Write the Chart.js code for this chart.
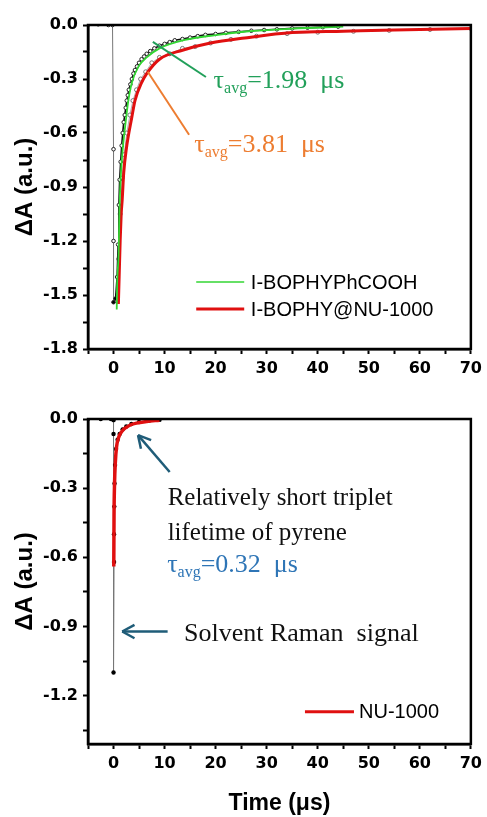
<!DOCTYPE html>
<html lang="en">
<head>
<meta charset="UTF-8">
<title>Transient absorption decays</title>
<script src="https://cdn.jsdelivr.net/npm/chart.js"></script>
<style>
  body { margin: 0; background: #fff; width: 487px; height: 817px; overflow: hidden; position: relative; }
  canvas { position: absolute; left: 0; }
  #top { top: 0; }
  #bottom { top: 392px; }
</style>
</head>
<body>
<canvas id="top" width="487" height="392"></canvas>
<canvas id="bottom" width="487" height="425"></canvas>
<script>
// tick positions (time in us, dA in a.u.)
const xTicks = [-5, 0, 5, 10, 15, 20, 25, 30, 35, 40, 45, 50, 55, 60, 65, 70];
const yTicksTop = [-1.8, -1.65, -1.5, -1.35, -1.2, -1.05, -0.9, -0.75, -0.6, -0.45, -0.3, -0.15, 0];
const yTicksBottom = [-1.35, -1.2, -1.05, -0.9, -0.75, -0.6, -0.45, -0.3, -0.15, 0];

// top panel: fit of I-BOPHYPhCOOH (green)
const phFitT = [0.63, 0.7, 1.0, 1.15, 1.25, 1.5, 1.8, 2.5, 2.9, 3.6, 4.9, 6.5, 9, 14, 20, 26, 35, 45];
const phFitA = [-1.58, -1.45, -1.27, -1.05, -0.95, -0.8, -0.69, -0.51, -0.42, -0.32, -0.23, -0.18, -0.13, -0.083, -0.056, -0.036, -0.02, -0.009];

// top panel: fit of I-BOPHY@NU-1000 (red)
const nuFitT = [0.95, 1.1, 1.3, 1.5, 1.7, 2.0, 2.5, 3.6, 4.2, 5.5, 6.5, 9, 13.5, 19, 25.7, 35, 45, 55, 70];
const nuFitA = [-1.55, -1.4, -1.2, -1.05, -0.97, -0.82, -0.69, -0.51, -0.42, -0.32, -0.27, -0.19, -0.14, -0.1, -0.072, -0.042, -0.035, -0.028, -0.02];

// top panel: raw traces
const phRawT = [-5, -3, -1, -0.2, 0, 0, 0, 0.4, 0.7, 0.9, 1.05, 1.2, 1.4, 1.6, 1.8, 2.0, 2.2, 2.4, 2.6, 2.8, 3.0, 3.3, 3.6, 3.9, 4.2, 4.6, 5.0, 5.5, 6.0, 6.5, 7.2, 8, 9, 10, 11, 12, 13.5, 15, 16.5, 18, 20, 22, 24.5, 27, 29.5, 32, 35, 38, 41, 44];
const phRawA = [0, 0.004, 0, 0, -0.69, -1.2, -1.54, -1.52, -1.4, -1.22, -1.0, -0.86, -0.76, -0.67, -0.6, -0.54, -0.5, -0.46, -0.42, -0.39, -0.36, -0.33, -0.3, -0.27, -0.25, -0.23, -0.21, -0.19, -0.175, -0.16, -0.145, -0.13, -0.115, -0.105, -0.095, -0.085, -0.078, -0.07, -0.062, -0.055, -0.05, -0.044, -0.038, -0.032, -0.028, -0.024, -0.019, -0.015, -0.012, -0.009];
const nuRawT = [0.8, 1.0, 1.3, 1.7, 2.1, 2.6, 3.2, 3.8, 4.5, 5.3, 6.3, 7.5, 9, 11, 13.5, 16, 19, 23, 28, 34, 40, 47, 54, 62, 70];
const nuRawA = [-1.5, -1.3, -1.05, -0.85, -0.72, -0.6, -0.5, -0.42, -0.36, -0.3, -0.26, -0.21, -0.18, -0.16, -0.13, -0.12, -0.1, -0.08, -0.062, -0.048, -0.04, -0.035, -0.03, -0.025, -0.02];

// bottom panel: NU-1000
const mofFitT = [0.05, 0.1, 0.2, 0.35, 0.6, 1.0, 1.7, 2.5, 3.3, 4.5, 6.5, 9];
const mofFitA = [-0.64, -0.42, -0.28, -0.19, -0.12, -0.08, -0.052, -0.036, -0.026, -0.018, -0.011, -0.005];
const mofRawT = [-5, -2.5, -0.5, 0, 0, 0, 0.1, 0.1, 0.15, 0.2, 0.3, 0.5, 0.8, 1.2, 1.8, 2.5, 3.5, 5, 7, 9];
const mofRawA = [0, 0, 0, -0.005, -0.065, -1.1, -0.62, -0.5, -0.38, -0.28, -0.2, -0.13, -0.09, -0.065, -0.045, -0.032, -0.022, -0.013, -0.007, -0.004];

const SANS = '"Liberation Sans", Arial, sans-serif';
const SERIF = '"Liberation Serif", "Times New Roman", serif';
const pts = (t, a) => t.map((x, i) => ({ x: x, y: a[i] }));

function xAxis(height, showTitle) {
  return {
    type: 'linear', min: -5, max: 70,
    afterBuildTicks: s => { s.ticks = xTicks.map(v => ({ value: v })); },
    afterFit: s => { s.height = height; },
    ticks: {
      autoSkip: false, maxRotation: 0, color: '#000', padding: 5,
      font: { family: '"DejaVu Sans"', size: 16, weight: 'bold' },
      callback: v => (v % 10 === 0 ? String(v) : '')
    },
    grid: { drawOnChartArea: false, tickLength: 5, tickWidth: 2, tickColor: '#000' },
    border: { color: '#000', width: 2.5 },
    title: {
      display: showTitle, text: 'Time (\u03bcs)', color: '#000',
      font: { family: SANS, size: 23, weight: 'bold' }, padding: { top: 0, bottom: 0 }
    }
  };
}

function yAxis(min, ticks) {
  return {
    type: 'linear', min: min, max: 0,
    afterBuildTicks: s => { s.ticks = ticks.map(v => ({ value: v })); },
    afterFit: s => { s.width = 88; },
    ticks: {
      color: '#000', padding: 5,
      font: { family: '"DejaVu Sans"', size: 16, weight: 'bold' },
      callback: v => (Math.abs(Math.round(v / 0.3) * 0.3 - v) < 1e-6 ? v.toFixed(1) : '')
    },
    grid: { drawOnChartArea: false, tickLength: 5, tickWidth: 2, tickColor: '#000' },
    border: { color: '#000', width: 2.5 },
    title: {
      display: true, text: '\u0394A (a.u.)', color: '#000',
      font: { family: SANS, size: 24, weight: 'bold' }, padding: { top: 11, bottom: 0 }
    }
  };
}

// box around the plot area
const frame = {
  id: 'frame',
  afterDatasetsDraw(chart) {
    const { ctx, chartArea: a } = chart;
    ctx.save();
    ctx.strokeStyle = '#000';
    ctx.lineWidth = 2.5;
    ctx.strokeRect(a.left, a.top, a.right - a.left, a.bottom - a.top);
    ctx.restore();
  }
};

function at(chart, x, y) {
  return [chart.scales.x.getPixelForValue(x), chart.scales.y.getPixelForValue(y)];
}

function segment(ctx, p, q, color, w) {
  ctx.strokeStyle = color;
  ctx.lineWidth = w;
  ctx.beginPath();
  ctx.moveTo(p[0], p[1]);
  ctx.lineTo(q[0], q[1]);
  ctx.stroke();
}

function arrow(ctx, tail, head, color) {
  segment(ctx, tail, head, color, 2.5);
  const ang = Math.atan2(tail[1] - head[1], tail[0] - head[0]);
  const len = 14;
  [-0.5, 0.5].forEach(d => {
    segment(ctx, head, [head[0] + len * Math.cos(ang + d), head[1] + len * Math.sin(ang + d)], color, 2.5);
  });
}

// "τavg=... μs" with the subscript
function tau(ctx, x, y, value, color) {
  ctx.fillStyle = color;
  ctx.textBaseline = 'alphabetic';
  ctx.textAlign = 'left';
  ctx.font = '26px ' + SERIF;
  ctx.fillText('\u03c4', x, y);
  x += ctx.measureText('\u03c4').width;
  ctx.font = '16px ' + SERIF;
  ctx.fillText('avg', x, y + 5);
  x += ctx.measureText('avg').width;
  ctx.font = '26px ' + SERIF;
  ctx.fillText('=' + value + '  \u03bcs', x, y);
}

function legendRow(ctx, chart, x1, x2, tx, y, color, w, label) {
  const a = at(chart, x1, y), b = at(chart, x2, y), t = at(chart, tx, y);
  segment(ctx, a, b, color, w);
  ctx.fillStyle = '#000';
  ctx.font = '20px ' + SANS;
  ctx.textBaseline = 'middle';
  ctx.textAlign = 'left';
  ctx.fillText(label, t[0], t[1] + 1);
}

const topNotes = {
  id: 'topNotes',
  afterDraw(chart) {
    const ctx = chart.ctx;
    ctx.save();
    segment(ctx, at(chart, 7.7, -0.094), at(chart, 18.1, -0.289), '#22a05a', 2);
    segment(ctx, at(chart, 6.7, -0.26), at(chart, 14.8, -0.61), '#ed7d31', 2);
    let p = at(chart, 19.6, -0.35);
    tau(ctx, p[0], p[1], '1.98', '#22a05a');
    p = at(chart, 15.8, -0.706);
    tau(ctx, p[0], p[1], '3.81', '#ed7d31');
    legendRow(ctx, chart, 16.2, 25.6, 26.9, -1.428, '#33d633', 1.5, 'I-BOPHYPhCOOH');
    legendRow(ctx, chart, 16.2, 25.6, 26.9, -1.578, '#e01010', 3, 'I-BOPHY@NU-1000');
    ctx.restore();
  }
};

const bottomNotes = {
  id: 'bottomNotes',
  afterDraw(chart) {
    const ctx = chart.ctx;
    ctx.save();
    arrow(ctx, at(chart, 11, -0.23), at(chart, 4.8, -0.07), '#1f5c78');
    arrow(ctx, at(chart, 10.6, -0.922), at(chart, 1.7, -0.922), '#1f5c78');
    ctx.fillStyle = '#111';
    ctx.font = '25px ' + SERIF;
    ctx.textAlign = 'left';
    ctx.textBaseline = 'alphabetic';
    let p = at(chart, 10.6, -0.374);
    ctx.fillText('Relatively short triplet', p[0], p[1]);
    p = at(chart, 10.6, -0.526);
    ctx.fillText('lifetime of pyrene', p[0], p[1]);
    ctx.font = '26px ' + SERIF;
    p = at(chart, 13.8, -0.961);
    ctx.fillText('Solvent Raman  signal', p[0], p[1]);
    p = at(chart, 10.5, -0.665);
    tau(ctx, p[0], p[1], '0.32', '#2e75b6');
    legendRow(ctx, chart, 37.5, 47.1, 48.1, -1.27, '#e01010', 3, 'NU-1000');
    ctx.restore();
  }
};

// the spike at t = 0 is drawn as a thin grey trace
const spike = c => c.p0.parsed.x <= 0.05 && c.p1.parsed.x <= 0.45;

const common = {
  responsive: false,
  animation: false,
  events: [],
  plugins: { legend: { display: false }, tooltip: { enabled: false } }
};

new Chart(document.getElementById('top'), {
  type: 'line',
  data: {
    datasets: [
      { label: 'I-BOPHYPhCOOH fit', data: pts(phFitT, phFitA), borderColor: '#33d633', borderWidth: 1.8,
        pointRadius: 0, cubicInterpolationMode: 'monotone' },
      { label: 'I-BOPHY@NU-1000 fit', data: pts(nuFitT, nuFitA), borderColor: '#e01010', borderWidth: 3,
        pointRadius: 0, cubicInterpolationMode: 'monotone' },
      { label: 'I-BOPHYPhCOOH', data: pts(phRawT, phRawA), borderColor: '#111', borderWidth: 1.6,
        segment: {
          borderColor: c => (spike(c) ? '#777' : undefined),
          borderWidth: c => (spike(c) ? 1 : undefined)
        },
        pointRadius: 1.8, pointBorderWidth: 1, pointBorderColor: '#222',
        pointBackgroundColor: c => (c.raw && c.raw.y < -1.5 ? '#000' : '#fff') },
      { label: 'I-BOPHY@NU-1000', data: pts(nuRawT, nuRawA), borderColor: '#999', borderWidth: 0.8,
        pointRadius: 2, pointBorderWidth: 1, pointBorderColor: '#777', pointBackgroundColor: '#fff' }
    ]
  },
  options: Object.assign({}, common, {
    layout: { padding: { top: 25, right: 12, left: 0, bottom: 0 } },
    scales: { x: xAxis(43, false), y: yAxis(-1.8, yTicksTop) }
  }),
  plugins: [frame, topNotes]
});

new Chart(document.getElementById('bottom'), {
  type: 'line',
  data: {
    datasets: [
      { label: 'NU-1000 fit', data: pts(mofFitT, mofFitA), borderColor: '#e01010', borderWidth: 3.5,
        pointRadius: 0, cubicInterpolationMode: 'monotone' },
      { label: 'NU-1000', data: pts(mofRawT, mofRawA), borderColor: '#777', borderWidth: 1,
        pointRadius: 2.2, pointBorderWidth: 0, pointBackgroundColor: '#000' }
    ]
  },
  options: Object.assign({}, common, {
    layout: { padding: { top: 27, right: 12, left: 0, bottom: 0 } },
    scales: { x: xAxis(73, true), y: yAxis(-1.41, yTicksBottom) }
  }),
  plugins: [frame, bottomNotes]
});
</script>
</body>
</html>
